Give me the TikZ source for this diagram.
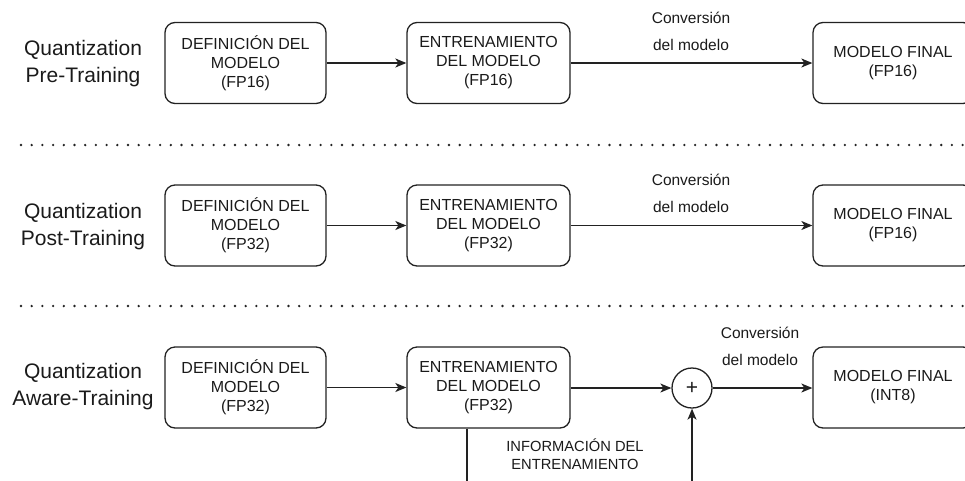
\documentclass[tikz,border=0pt]{standalone}
\usepackage{fontspec}
\setmainfont{Liberation Sans}
\usetikzlibrary{arrows.meta}
\definecolor{ink}{HTML}{1A1A1A}
\definecolor{edge}{HTML}{222222}
\begin{document}
\begin{tikzpicture}[x=1pt,y=-1pt,
  every node/.style={text=ink},
  stepbox/.style={draw=edge,line width=1.3pt,rounded corners=10pt,
    minimum height=81pt,align=center,inner sep=0pt,
    font=\fontsize{16}{19}\selectfont},
  rowlabel/.style={align=center,font=\fontsize{21}{27}\selectfont},
  convlabel/.style={align=center,font=\fontsize{15.5}{27}\selectfont},
  flow/.style={draw=edge,line width=1.3pt,-{Stealth[length=11pt,width=9pt,inset=3pt]}},
  sep/.style={draw=edge,line width=2.6pt,line cap=round,dash pattern=on 0pt off 10.7pt},
  sumnode/.style={circle,draw=edge,line width=1.3pt,minimum size=40pt,inner sep=0pt,
    font=\fontsize{21}{21}\selectfont}]
\useasboundingbox (0,0) rectangle (965,480);
\clip (0,0) rectangle (965,480);

% ---- Pre-training quantization ----
\node[rowlabel] (l1) at (83,63.5) {Quantization\\Pre-Training};
\node[stepbox,minimum width=161pt] (a1) at (245.5,63) {DEFINICIÓN DEL\\MODELO\\(FP16)};
\node[stepbox,minimum width=163pt] (b1) at (488.5,63) {ENTRENAMIENTO\\DEL MODELO\\(FP16)};
\node[stepbox,minimum width=160pt] (c1) at (893,63) {MODELO FINAL\\(FP16)};
\draw[flow] (a1) -- (b1);
\draw[flow] (b1) -- (c1);
\node[convlabel] (k1) at (691,31.5) {Conversión\\del modelo};

\draw[sep] (21,145) coordinate (s1a) -- (965,145) coordinate (s1b);

% ---- Post-training quantization ----
\node[rowlabel] (l2) at (83,226.5) {Quantization\\Post-Training};
\node[stepbox,minimum width=161pt] (a2) at (245.5,225.5) {DEFINICIÓN DEL\\MODELO\\(FP32)};
\node[stepbox,minimum width=163pt] (b2) at (488.5,225.5) {ENTRENAMIENTO\\DEL MODELO\\(FP32)};
\node[stepbox,minimum width=160pt] (c2) at (893,225.5) {MODELO FINAL\\(FP16)};
\draw[flow] (a2) -- (b2);
\draw[flow] (b2) -- (c2);
\node[convlabel] (k2) at (691,193.5) {Conversión\\del modelo};

\draw[sep] (21,306) coordinate (s2a) -- (965,306) coordinate (s2b);

% ---- Quantization-aware training ----
\node[rowlabel] (l3) at (83,386.5) {Quantization\\Aware-Training};
\node[stepbox,minimum width=161pt] (a3) at (245.5,387.5) {DEFINICIÓN DEL\\MODELO\\(FP32)};
\node[stepbox,minimum width=163pt] (b3) at (488.5,387.5) {ENTRENAMIENTO\\DEL MODELO\\(FP32)};
\node[sumnode] (sum) at (692,388) {+};
\node[stepbox,minimum width=160pt] (c3) at (893,387.5) {MODELO FINAL\\(INT8)};
\draw[flow] (a3) -- (b3);
\draw[flow] (b3.east |- sum) -- (sum);
\draw[flow] (sum) -- (c3.west |- sum);
\node[convlabel] (k3) at (760,346) {Conversión\\del modelo};

% training information fed back into the sum
\coordinate (fb) at (467,500);
\draw[flow] (b3.south -| fb) -- (fb) -| (sum.south);
\node[align=center,font=\fontsize{14.7}{18}\selectfont] (info) at (575,454)
  {INFORMACIÓN DEL\\ENTRENAMIENTO};
\end{tikzpicture}
\end{document}
